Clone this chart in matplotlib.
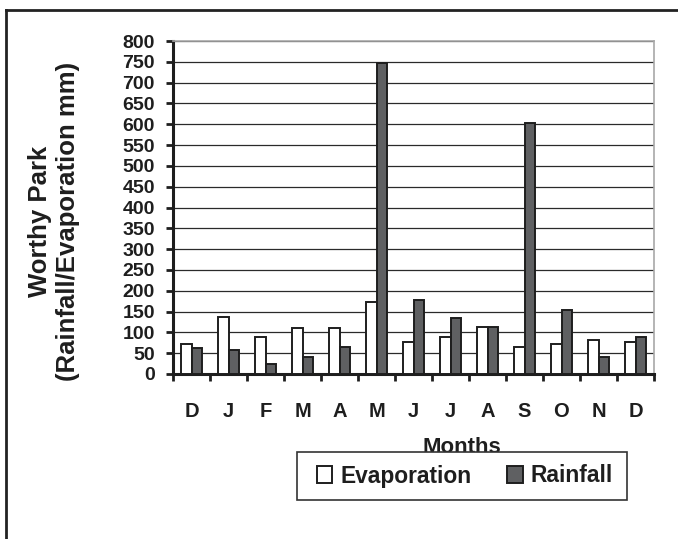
import numpy as np
import matplotlib.pyplot as plt
from matplotlib.patches import Rectangle
from matplotlib.lines import Line2D

# monthly totals, Dec through Dec (mm)
months = ['D', 'J', 'F', 'M', 'A', 'M', 'J', 'J', 'A', 'S', 'O', 'N', 'D']
evaporation = [71, 138, 90, 110, 110, 172, 76, 90, 114, 66, 71, 81, 76]
rainfall = [62, 57, 23, 42, 66, 748, 177, 134, 114, 604, 153, 42, 90]
y_ticks = list(range(0, 801, 50))

plt.rcParams['font.family'] = ['Liberation Sans', 'DejaVu Sans']
plt.rcParams['font.weight'] = 'bold'
ink = '#1e1e1e'

W, H = 678, 539
fig = plt.figure(figsize=(W / 100, H / 100), dpi=100)
ax = fig.add_axes([173 / W, 1 - 374 / H, (654 - 173) / W, (374 - 41) / H])

x = np.arange(len(months))
bw = 0.29
ax.bar(x - bw / 2, evaporation, bw, color='white', edgecolor=ink, linewidth=1.4,
       label='Evaporation', zorder=3)
ax.bar(x + bw / 2, rainfall, bw, color='#5f6062', edgecolor=ink, linewidth=1.4,
       label='Rainfall', zorder=3)

ax.set_xlim(-0.5, len(months) - 0.5)
ax.set_ylim(0, 800)
ax.set_yticks(y_ticks)
ax.set_yticklabels([str(v) for v in y_ticks], fontsize=14, fontweight='bold', color=ink)
ax.yaxis.grid(True, color='#2a2a2a', linewidth=0.9)
ax.set_axisbelow(True)

# labels at the category centres, tick marks between categories
ax.set_xticks(x)
ax.set_xticklabels(months, fontsize=14.5, fontweight='bold', color=ink)
ax.set_xticks(np.arange(-0.5, len(months)), minor=True)
ax.tick_params(axis='x', which='major', length=0, pad=20)
ax.tick_params(axis='x', which='minor', length=5, width=2, color=ink, direction='out')
ax.tick_params(axis='y', length=5, width=2, color=ink, direction='out', pad=8)

for side in ['left', 'bottom']:
    ax.spines[side].set_color(ink)
    ax.spines[side].set_linewidth(2.2)
for side in ['top', 'right']:
    ax.spines[side].set_color('#a8a8a8')
    ax.spines[side].set_linewidth(1.2)

fig.text(54 / W, 1 - 221 / H, 'Worthy Park\n(Rainfall/Evaporation mm)', rotation=90,
         ha='center', va='center', multialignment='center', fontsize=18.5,
         fontweight='bold', color=ink, linespacing=1.2)

fig.text(462 / W, 1 - 453 / H, 'Months', ha='center', va='baseline',
         fontsize=16, fontweight='bold', color=ink)

# legend box
fig.add_artist(Rectangle((297 / W, 1 - 500 / H), (627 - 297) / W, (500 - 452) / H,
                         transform=fig.transFigure, facecolor='white',
                         edgecolor='#333333', linewidth=1.2, zorder=5))
leg = fig.legend(loc='center left', bbox_to_anchor=(317 / W, 1 - 476 / H),
                 ncol=2, frameon=False, borderpad=0, borderaxespad=0,
                 handlelength=0.68, handleheight=0.72, handletextpad=0.36,
                 columnspacing=1.55, prop={'size': 16.4, 'weight': 'bold'})
leg.set_zorder(6)
for t in leg.get_texts():
    t.set_color(ink)

# outer frame round the chart
fig.add_artist(Line2D([5.5 / W, 5.5 / W], [0, 1 - 9.5 / H], transform=fig.transFigure,
                      color='#222222', linewidth=2))
fig.add_artist(Line2D([5.5 / W, 1], [1 - 9.5 / H, 1 - 9.5 / H], transform=fig.transFigure,
                      color='#222222', linewidth=2))

fig.savefig('out.png', dpi=100)
